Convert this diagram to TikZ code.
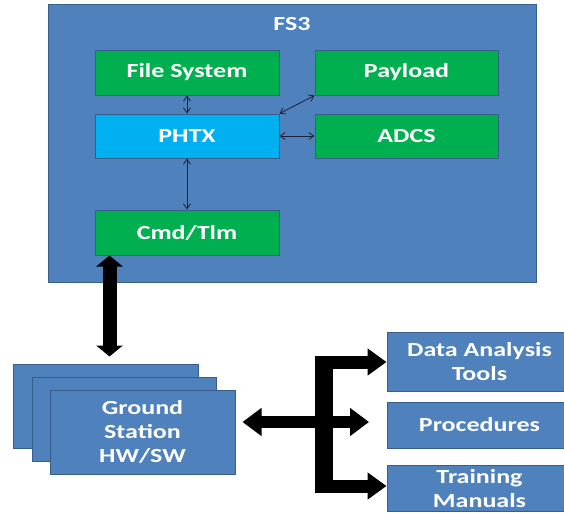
\documentclass[tikz,border=0pt]{standalone}
\usepackage{fontspec}
\setmainfont{Carlito}[FakeStretch=1.3]
\usetikzlibrary{arrows.meta,calc}
\definecolor{panelblue}{HTML}{4F81BD}
\definecolor{edgeblue}{HTML}{385D8A}
\definecolor{modgreen}{HTML}{00B050}
\definecolor{corecyan}{HTML}{00B0F0}
\definecolor{wire}{HTML}{1A2238}
\tikzset{
  box/.style={draw=edgeblue, line width=1pt, fill=panelblue, text=white,
    font=\bfseries\fontsize{20}{24}\selectfont, align=center,
    inner sep=0pt, anchor=center},
  module/.style={box, fill=modgreen},
  core/.style={box, fill=corecyan},
  link/.style={wire, line width=0.8pt, {Straight Barb[length=5pt,width=7pt]}-{Straight Barb[length=5pt,width=7pt]}},
  vbig/.style={black, line width=14pt, {Triangle[length=11pt,width=26pt]}-{Triangle[length=11pt,width=26pt]}},
  hbig/.style={black, line width=12pt, {Triangle[length=19pt,width=27pt]}-{Triangle[length=19pt,width=27pt]}},
  branch/.style={black, line width=13pt, -{Triangle[length=19pt,width=26pt]}},
}
\begin{document}
\begin{tikzpicture}[x=1pt,y=-1pt]
\useasboundingbox (0,0) rectangle (564,512);
\fill[white] (0,0) rectangle (564,512);
\clip (0,0) rectangle (564,512);

% spacecraft panel
\node[box, minimum width=488pt, minimum height=278pt] (fs3) at (292,143) {};
\node[text=white, font=\bfseries\fontsize{20}{24}\selectfont] (fs3label) at (292,24) {FS3};

\node[module, minimum width=184pt, minimum height=45pt] (filesys) at (187,72.5) {File System};
\node[module, minimum width=183pt, minimum height=45pt] (payload) at (406.5,72.5) {Payload};
\node[core,   minimum width=184pt, minimum height=44pt] (phtx) at (187,136) {PHTX};
\node[module, minimum width=183pt, minimum height=44pt] (adcs) at (406.5,136) {ADCS};
\node[module, minimum width=184pt, minimum height=45pt] (cmd) at (187,232.5) {Cmd/Tlm};

\draw[link] (filesys.south) -- (phtx.north);
\draw[link] (phtx.north east) -- (payload.south west);
\draw[link] (phtx.east) -- (adcs.west);
\draw[link] (phtx.south) -- (cmd.north);

% ground segment (stacked stations)
\node[box, minimum width=185pt, minimum height=84pt] (gsback) at (105.5,406) {};
\node[box, minimum width=184pt, minimum height=84pt] (gsmid) at (124,419) {};
\node[box, minimum width=185pt, minimum height=84pt] (gsfront) at (142.5,432) {Ground\\Station\\HW/SW};

% support products
\node[box, minimum width=185pt, minimum height=59pt] (tools) at (479.5,361.5) {Data Analysis\\Tools};
\node[box, minimum width=185pt, minimum height=46pt] (procs) at (479.5,425) {Procedures};
\node[box, minimum width=185pt, minimum height=46pt] (train) at (479.5,488.5) {Training\\Manuals};

% space-ground link
\coordinate (upTip) at ($(cmd.south west)+(15,0)$);
\coordinate (downTip) at ($(gsback.north west)+(97,-7)$);
\draw[vbig] (upTip) -- (downTip);

% distribution bracket
\coordinate (gsTip) at ($(gsfront.east)+(7,-10)$);
\coordinate (midTip) at (369,422);
\draw[hbig] (gsTip) -- (midTip);
\fill[black] (315,355.5) rectangle (333,492.5);
\draw[branch] (318,362) -- (tools.west |- 0,362);
\draw[branch] (318,486) -- (train.west |- 0,486);
\end{tikzpicture}
\end{document}
